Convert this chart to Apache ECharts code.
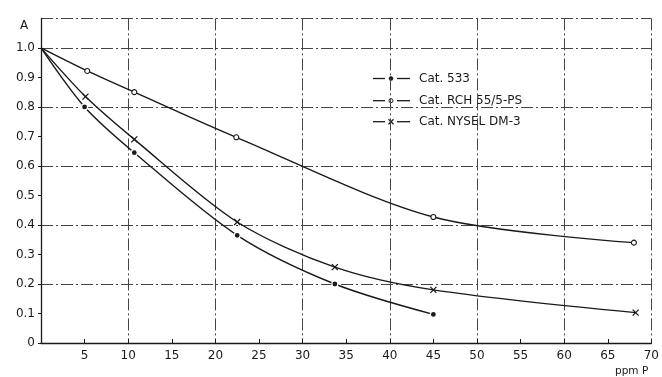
<!DOCTYPE html>
<html>
<head>
<meta charset="utf-8">
<script src="https://cdn.jsdelivr.net/npm/echarts@6/dist/echarts.min.js"></script>
<style>
  html, body { margin: 0; padding: 0; background: #fff; }
  #chart { width: 662px; height: 377px; }
</style>
</head>
<body>
<div id="chart"></div>
<script>
// Absorbance A versus phosphorus concentration (ppm P) for three catalysts
const ppm533 = [0, 5, 10.7, 22.5, 33.7, 45];
const abs533 = [1.0, 0.80, 0.645, 0.365, 0.20, 0.097];

const ppmRch = [0, 5.3, 10.7, 22.4, 45, 68];
const absRch = [1.0, 0.922, 0.85, 0.697, 0.427, 0.34];

const ppmNysel = [0, 5.1, 10.7, 22.5, 33.7, 45, 68.2];
const absNysel = [1.0, 0.835, 0.69, 0.41, 0.257, 0.18, 0.103];

const seriesNames = ['Cat. 533', 'Cat. RCH 55/5-PS', 'Cat. NYSEL DM-3'];
const xTickValues = [5, 10, 15, 20, 25, 30, 35, 40, 45, 50, 55, 60, 65, 70];

const FONT = 'DejaVu Sans';
const INK = '#1a1a1a';
const GRID_INK = '#444';
const dashDot = [12, 3, 2, 3];

// first point of each curve (the common origin at A = 1.0) carries no marker
const pairs = (xs, ys) => xs.map((x, i) => (i === 0 ? { value: [x, ys[i]], symbol: 'none' } : [x, ys[i]]));

const crossPath = 'path://M0,0L10,10M10,0L0,10';

const chart = echarts.init(document.getElementById('chart'), null, { renderer: 'canvas' });

const lineBase = {
  type: 'line',
  smooth: 0.3,
  xAxisIndex: 0,
  yAxisIndex: 0,
  lineStyle: { color: INK, width: 1.4 },
  emphasis: { disabled: true },
  z: 5
};

// Hand-built key: "—•—", "—o—", "—x—" glyphs followed by the catalyst names
const KEY_LEFT = 373;
const KEY_ROWS = [78.5, 100.7, 121.7];
const keyStroke = { stroke: INK, lineWidth: 1.3 };
function keyRow(i) {
  const y = KEY_ROWS[i];
  const els = [
    { type: 'line', shape: { x1: KEY_LEFT, y1: y, x2: KEY_LEFT + 12, y2: y }, style: keyStroke },
    { type: 'line', shape: { x1: KEY_LEFT + 24, y1: y, x2: KEY_LEFT + 37, y2: y }, style: keyStroke },
    {
      type: 'text', x: KEY_LEFT + 46, y: y,
      style: { text: seriesNames[i], fill: INK, font: '12px "DejaVu Sans"', textVerticalAlign: 'middle' }
    }
  ];
  const cx = KEY_LEFT + 18;
  if (i === 0) {
    els.push({ type: 'circle', shape: { cx: cx, cy: y, r: 2.2 }, style: { fill: INK } });
  } else if (i === 1) {
    els.push({ type: 'circle', shape: { cx: cx, cy: y, r: 2 }, style: { fill: '#fff', stroke: INK, lineWidth: 1 } });
  } else {
    els.push({ type: 'line', shape: { x1: cx - 2.5, y1: y - 2.5, x2: cx + 2.5, y2: y + 2.5 }, style: keyStroke });
    els.push({ type: 'line', shape: { x1: cx - 2.5, y1: y + 2.5, x2: cx + 2.5, y2: y - 2.5 }, style: keyStroke });
  }
  return els;
}

chart.setOption({
  animation: false,
  backgroundColor: '#fff',
  grid: { left: 41, top: 18.4, right: 5.4, bottom: 34, containLabel: false },
  xAxis: [
    {
      type: 'value', min: 0, max: 70, interval: 5,
      axisLine: { show: true, lineStyle: { color: INK, width: 1.3 } },
      axisTick: { show: true, inside: true, length: 4, lineStyle: { color: INK } },
      axisLabel: {
        show: true, margin: 7, color: INK, fontFamily: FONT, fontSize: 12,
        formatter: (v) => (xTickValues.includes(v) ? String(v) : '')
      },
      splitLine: { show: false }
    },
    {
      type: 'value', min: 0, max: 70, interval: 10, position: 'bottom',
      axisLine: { show: false }, axisTick: { show: false }, axisLabel: { show: false },
      splitLine: { show: true, lineStyle: { color: GRID_INK, width: 1, type: dashDot } }
    }
  ],
  yAxis: [
    {
      type: 'value', min: 0, max: 1.1, interval: 0.1,
      axisLine: { show: true, lineStyle: { color: INK, width: 1.3 } },
      axisTick: { show: true, length: 3, lineStyle: { color: INK } },
      axisLabel: {
        show: true, margin: 6, color: INK, fontFamily: FONT, fontSize: 12,
        showMaxLabel: false,
        formatter: (v) => (v === 0 ? '0' : (Math.abs(v - 1.1) < 1e-6 ? '' : v.toFixed(1)))
      },
      splitLine: { show: false }
    },
    {
      type: 'value', min: 0, max: 1.1, interval: 0.2, position: 'left',
      axisLine: { show: false }, axisTick: { show: false }, axisLabel: { show: false },
      splitLine: { show: true, lineStyle: { color: GRID_INK, width: 1, type: dashDot } }
    }
  ],
  series: [
    Object.assign({}, lineBase, {
      name: seriesNames[0],
      data: pairs(ppm533, abs533),
      symbol: 'circle',
      symbolSize: 6,
      itemStyle: { color: INK, borderColor: '#fff', borderWidth: 1.2 }
    }),
    Object.assign({}, lineBase, {
      name: seriesNames[1],
      data: pairs(ppmRch, absRch),
      symbol: 'circle',
      symbolSize: 5,
      itemStyle: { color: '#fff', borderColor: INK, borderWidth: 1.1 }
    }),
    Object.assign({}, lineBase, {
      name: seriesNames[2],
      data: pairs(ppmNysel, absNysel),
      symbol: crossPath,
      symbolSize: 6,
      itemStyle: { color: 'none', borderColor: INK, borderWidth: 1.3 }
    })
  ],
  graphic: [
    { type: 'group', z: 20, children: [].concat(keyRow(0), keyRow(1), keyRow(2)) },
    {
      type: 'text', left: 20, top: 20,
      style: { text: 'A', fill: INK, font: '12px "DejaVu Sans"' }
    },
    {
      type: 'text', left: 615, top: 366,
      style: { text: 'ppm P', fill: INK, font: '10.5px "DejaVu Sans"' }
    }
  ]
});
</script>
</body>
</html>
